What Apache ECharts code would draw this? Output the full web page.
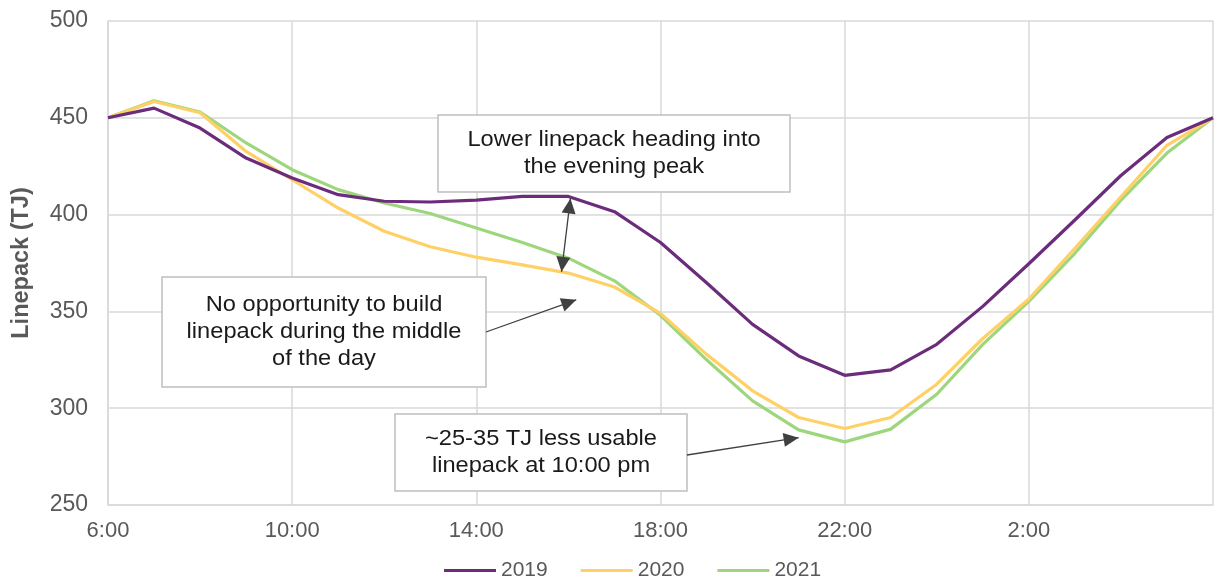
<!DOCTYPE html>
<html>
<head>
<meta charset="utf-8">
<title>Linepack</title>
<script src="https://cdn.jsdelivr.net/npm/echarts@6/dist/echarts.min.js"></script>
<style>
  html, body { margin: 0; padding: 0; background: #ffffff; }
  #chart { width: 1215px; height: 583px; }
</style>
</head>
<body>
<div id="chart"></div>
<script>
// Hourly time of day, 6:00 through 6:00 the next morning
const hours = ['6:00', '7:00', '8:00', '9:00', '10:00', '11:00', '12:00', '13:00', '14:00', '15:00',
  '16:00', '17:00', '18:00', '19:00', '20:00', '21:00', '22:00', '23:00', '0:00', '1:00',
  '2:00', '3:00', '4:00', '5:00', '6:00'];

// Linepack (TJ) per hour
const y2019 = [450, 455, 444.7, 429.2, 418.9, 410.3, 406.9, 406.5, 407.5, 409.4, 409.4, 401.5, 385.6, 364.8,
  343.3, 327, 317, 319.8, 333, 352.6, 374.6, 397.2, 420.2, 439.8, 450];
const y2020 = [450, 458.4, 452.6, 432.6, 418, 403.4, 391.4, 383.4, 378, 374, 369.8, 362.6, 349, 327.8,
  309, 295.2, 289.5, 295.2, 312.4, 336, 356.4, 382.6, 409.2, 435.8, 450];
const y2021 = [450, 458.8, 453, 437, 423.2, 412.9, 406, 400.6, 393.1, 385.6, 377.5, 365.8, 348, 325,
  303.8, 288.8, 282.6, 289.2, 307.2, 333, 355.2, 380, 407.5, 431.8, 450];

const seriesNames = ['2019', '2020', '2021'];
const seriesColors = ['#6B2C7C', '#FFD066', '#9DD67C'];

// Value axis range
const yMin = 250, yMax = 500, yStep = 50;

const FONT = '"Liberation Sans", Arial, Helvetica, sans-serif';
const AXIS_TEXT = '#595959';
const GRID = '#d9d9d9';
const INK = '#404040';

const chart = echarts.init(document.getElementById('chart'), null, { renderer: 'canvas' });

chart.setOption({
  animation: false,
  grid: { left: 108, right: 2, top: 21, bottom: 78, containLabel: false },
  xAxis: {
    type: 'category',
    data: hours,
    boundaryGap: false,
    axisLine: { show: true, lineStyle: { color: GRID, width: 1.5 } },
    axisTick: { show: false },
    axisLabel: {
      interval: (i) => i % 4 === 0 && i < hours.length - 1,
      color: AXIS_TEXT, fontSize: 22, fontFamily: FONT, margin: 15
    },
    splitLine: { show: true, interval: (i) => i % 4 === 0, lineStyle: { color: GRID, width: 1.5 } }
  },
  yAxis: {
    type: 'value',
    min: yMin, max: yMax, interval: yStep,
    axisLine: { show: true, lineStyle: { color: GRID, width: 1.5 } },
    axisTick: { show: false },
    axisLabel: { color: AXIS_TEXT, fontSize: 23, fontFamily: FONT, margin: 20 },
    splitLine: { show: true, lineStyle: { color: GRID, width: 1.5 } },
    name: 'Linepack (TJ)',
    nameLocation: 'middle',
    nameGap: 74,
    nameTextStyle: { color: AXIS_TEXT, fontSize: 23.5, fontWeight: 'bold', fontFamily: FONT }
  },
  legend: {
    top: 560, left: 444, padding: 0,
    icon: 'rect', itemWidth: 52, itemHeight: 3, itemGap: 33,
    textStyle: { color: AXIS_TEXT, fontSize: 21, fontFamily: FONT },
    data: seriesNames
  },
  series: [y2019, y2020, y2021].map((vals, k) => ({
    name: seriesNames[k],
    type: 'line',
    data: vals,
    showSymbol: false,
    symbol: 'none',
    lineStyle: { color: seriesColors[k], width: 3.2 },
    itemStyle: { color: seriesColors[k] },
    z: 3 - k
  }))
});

// Pixel position of a (fractional) hour index and a linepack value
function px(idx, val) {
  const i0 = Math.floor(idx), i1 = Math.min(i0 + 1, hours.length - 1);
  const a = chart.convertToPixel({ gridIndex: 0 }, [i0, val]);
  const b = chart.convertToPixel({ gridIndex: 0 }, [i1, val]);
  const f = idx - i0;
  return [a[0] + (b[0] - a[0]) * f, a[1]];
}
function lerp(arr, idx) {
  const i0 = Math.floor(idx), f = idx - i0;
  return arr[i0] + (arr[Math.min(i0 + 1, arr.length - 1)] - arr[i0]) * f;
}

function head(tip, from, len = 15, half = 7) {
  const dx = tip[0] - from[0], dy = tip[1] - from[1];
  const d = Math.hypot(dx, dy), ux = dx / d, uy = dy / d;
  const bx = tip[0] - ux * len, by = tip[1] - uy * len;
  return {
    type: 'polygon', z: 20,
    shape: { points: [tip, [bx - uy * half, by + ux * half], [bx + uy * half, by - ux * half]] },
    style: { fill: INK }
  };
}
function arrow(from, tip, both) {
  const els = [{
    type: 'line', z: 19,
    shape: { x1: from[0], y1: from[1], x2: tip[0], y2: tip[1] },
    style: { stroke: INK, lineWidth: 1.3 }
  }, head(tip, from)];
  if (both) els.push(head(from, tip));
  return els;
}
function box(x, y, w, h, text) {
  return [{
    type: 'rect', z: 15,
    shape: { x: x, y: y, width: w, height: h },
    style: { fill: '#ffffff', stroke: '#bfbfbf', lineWidth: 1.5 }
  }, {
    type: 'text', z: 16,
    x: x + w / 2, y: y + h / 2,
    scaleX: 1.1,
    style: {
      text: text, fill: '#1a1a1a', font: '21.5px ' + FONT,
      align: 'center', verticalAlign: 'middle', lineHeight: 27
    }
  }];
}

// Gap between 2019 and 2020 heading into the evening peak
const gapTop = px(10, y2019[10]);
const gapBottom = px(9.85, lerp(y2020, 9.85));
// Midday region below the 2020 line
const middayTip = px(10.17, 356);
// Evening trough near 22:00
const troughTip = px(15, y2021[15] - 4);

chart.setOption({
  graphic: [].concat(
    box(438, 115, 352, 77, 'Lower linepack heading into\nthe evening peak'),
    box(162, 277, 324, 110, 'No opportunity to build\nlinepack during the middle\nof the day'),
    box(395, 414, 292, 77, '~25-35 TJ less usable\nlinepack at 10:00 pm'),
    arrow([gapTop[0] + 2, gapTop[1] + 2], gapBottom, true),
    arrow([486, 332], middayTip, false),
    arrow([687, 455], troughTip, false)
  )
});
</script>
</body>
</html>
